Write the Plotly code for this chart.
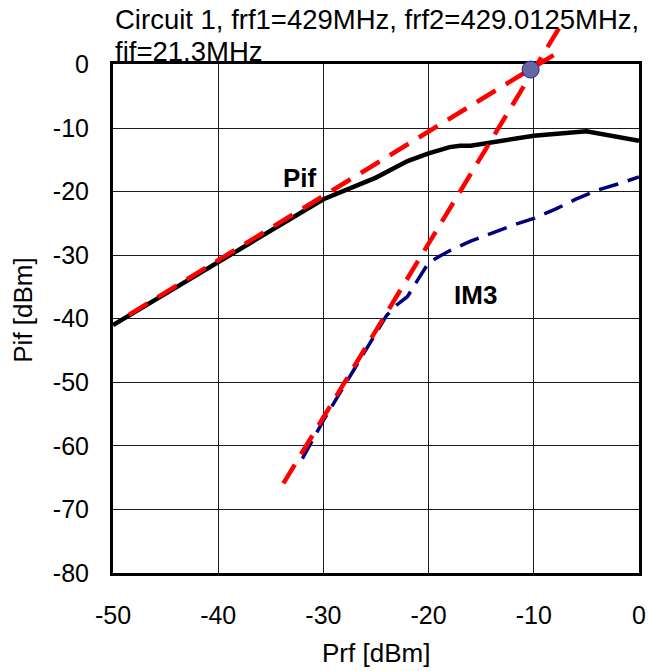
import plotly.graph_objects as go

# ---- data ----
prf_pif = [-50, -45, -40, -35, -30, -25, -22, -20, -18, -17, -16, -10, -5, 0]
pif = [-41, -36, -31, -26, -21.2, -17.8, -15.2, -14, -13, -12.8, -12.8, -11.2, -10.5, -12]

prf_im3 = [-32, -30, -28, -26, -24, -23, -22, -21, -20, -19, -18, -16, -14, -12, -10, -8, -6, -4, -2, 0]
im3 = [-62, -56, -50.5, -45, -39.5, -37.8, -36.5, -33.8, -31.2, -30.2, -29.3, -27.8, -26.5, -25.3, -24.2, -22.8, -21.2, -19.8, -18.8, -17.7]

fund_ext_x = [-48.5, -7.8]
fund_ext_y = [-39.4, 1.8]
im3_ext_x = [-33.8, -7.5]
im3_ext_y = [-65.9, 6.0]

ip3_x = [-10.3]
ip3_y = [-0.8]

x_ticks = [-50, -40, -30, -20, -10, 0]
x_ticktext = ["-50", "-40", "-30", "-20", "-10", "0"]
y_ticks = [-80, -70, -60, -50, -40, -30, -20, -10, 0]
y_ticktext = ["-80", "-70", "-60", "-50", "-40", "-30", "-20", "-10", "0"]

title_line1 = "Circuit 1, frf1=429MHz, frf2=429.0125MHz,"
title_line2 = "fif=21.3MHz"

# ---- geometry (pixels) ----
W, H = 651, 671
L, R, T, B = 113, 12, 15, 97.5
plot_top_px = 64.5
plot_bottom_px = H - B
area_h = plot_bottom_px - T
main_top = (plot_bottom_px - plot_top_px) / area_h
y2_top = -80 + 80 / main_top

FONT = "Arial, Liberation Sans, sans-serif"

fig = go.Figure()

fig.add_trace(go.Scatter(x=prf_pif, y=pif, mode="lines",
                         line=dict(color="black", width=4.5),
                         xaxis="x", yaxis="y", showlegend=False))
fig.add_trace(go.Scatter(x=prf_im3, y=im3, mode="lines",
                         line=dict(color="#000080", width=3.5, dash="20px,10px"),
                         xaxis="x", yaxis="y", showlegend=False))

# extrapolation lines on an overlay subplot that extends above the frame
fig.add_trace(go.Scatter(x=fund_ext_x, y=fund_ext_y, mode="lines",
                         line=dict(color="#FF0000", width=4.5, dash="22px,12px"),
                         xaxis="x2", yaxis="y2", showlegend=False))
fig.add_trace(go.Scatter(x=im3_ext_x, y=im3_ext_y, mode="lines",
                         line=dict(color="#FF0000", width=4.5, dash="22px,12px"),
                         xaxis="x2", yaxis="y2", showlegend=False))
fig.add_trace(go.Scatter(x=ip3_x, y=ip3_y, mode="markers",
                         marker=dict(size=17, color="#6666A3",
                                     line=dict(color="#22228C", width=1)),
                         cliponaxis=False,
                         xaxis="x2", yaxis="y2", showlegend=False))

axis_common = dict(showgrid=True, gridcolor="#1a1a1a", gridwidth=1,
                   showline=True, linecolor="black", linewidth=3, mirror=True,
                   zeroline=False, ticks="", automargin=False,
                   tickfont=dict(family=FONT, size=25, color="black"))

fig.update_layout(
    width=W, height=H,
    margin=dict(l=L, r=R, t=T, b=B, autoexpand=False),
    paper_bgcolor="white", plot_bgcolor="rgba(0,0,0,0)",
    xaxis=dict(domain=[0, 1], range=[-50, 0], tickvals=x_ticks, ticktext=x_ticktext,
               anchor="y", ticklabelstandoff=18, **axis_common),
    yaxis=dict(domain=[0, main_top], range=[-80, 0], tickvals=y_ticks, ticktext=y_ticktext,
               anchor="x", ticklabelstandoff=16, **axis_common),
    xaxis2=dict(domain=[0, 1], range=[-50, 0], anchor="y2", visible=False),
    yaxis2=dict(domain=[0, 1], range=[-80, y2_top], anchor="x2", visible=False),
)

def py(pix):
    return (plot_bottom_px - pix) / area_h

annotations = [
    dict(text=title_line1, x=0, xref="paper", xanchor="left", y=py(20), yref="paper",
         yanchor="middle", showarrow=False, font=dict(family=FONT, size=27.5, color="black")),
    dict(text=title_line2, x=0, xref="paper", xanchor="left", y=py(52), yref="paper",
         yanchor="middle", showarrow=False, font=dict(family=FONT, size=27.5, color="black")),
    dict(text="Prf [dBm]", x=0.5, xref="paper", xanchor="center", y=py(654), yref="paper",
         yanchor="middle", showarrow=False, font=dict(family=FONT, size=26, color="black")),
    dict(text="Pif [dBm]", x=-(L - 23) / (W - L - R), xref="paper", xanchor="center",
         y=py(311), yref="paper", yanchor="middle", textangle=-90, showarrow=False,
         font=dict(family=FONT, size=26, color="black")),
    dict(text="<b>Pif</b>", x=-32.2, y=-17.8, xref="x", yref="y", showarrow=False,
         font=dict(family=FONT, size=26, color="black")),
    dict(text="<b>IM3</b>", x=-15.5, y=-36.2, xref="x", yref="y", showarrow=False,
         font=dict(family=FONT, size=26, color="black")),
]
fig.update_layout(annotations=annotations)

fig.write_html("out.html")
